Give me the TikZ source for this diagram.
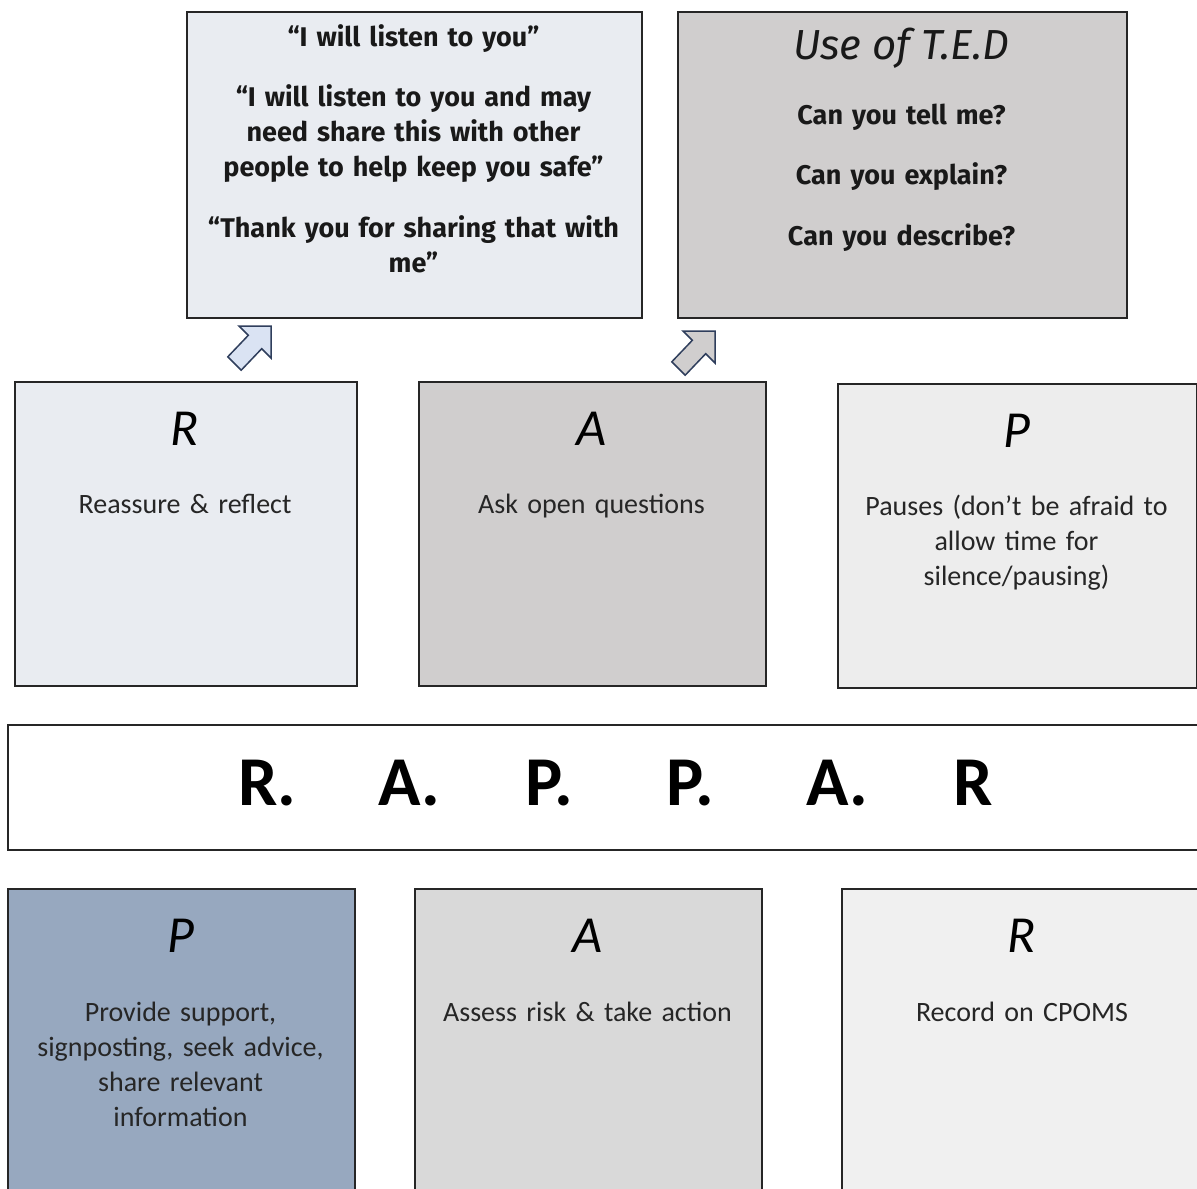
\documentclass[tikz,border=0pt]{standalone}
\usepackage{fontspec}
\setmainfont{Carlito}
\newfontfamily\firafam{Fira Sans}
\definecolor{paleblue}{HTML}{E9ECF1}
\definecolor{midgray}{HTML}{D0CECE}
\definecolor{lightgray}{HTML}{EDEDED}
\definecolor{slateblue}{HTML}{97A8BF}
\definecolor{graybox}{HTML}{D9D9D9}
\definecolor{palegray}{HTML}{F0F0F0}
\definecolor{arrowblue}{HTML}{DAE3F3}
\definecolor{arrowedge}{HTML}{2F3E5C}
\definecolor{bodytext}{HTML}{262626}
\begin{document}
\begin{tikzpicture}[x=1bp,y=-1bp,
  box/.style={draw=black!85,line width=1.5bp,anchor=north west,inner sep=0pt},
  quote/.style={anchor=base,inner sep=0pt,text width=450bp,align=center,text=black!90,
    font=\firafam\bfseries\fontsize{27bp}{35bp}\selectfont},
  tedhead/.style={anchor=base,inner sep=0pt,text=black!90,
    font=\firafam\itshape\fontsize{42bp}{44bp}\selectfont},
  bigletter/.style={anchor=base,inner sep=0pt,text=black,
    font=\itshape\fontsize{52bp}{52bp}\selectfont},
  body/.style={anchor=base,inner sep=0pt,text width=320bp,align=center,text=bodytext,
    font=\fontsize{28bp}{35bp}\selectfont},
  blockarrow/.style={draw=arrowedge,line width=1.5bp,line join=miter}
]
\useasboundingbox (0,0) rectangle (1197,1189);
\clip (0,0) rectangle (1197,1189);

% top boxes
\node[box,fill=paleblue,minimum width=455bp,minimum height=306bp] (quotes) at (186,11) {};
\node[box,fill=midgray,minimum width=449bp,minimum height=306bp] (ted) at (677,11) {};

\node[quote] (q1) at (413.5,46) {“I will listen to you”};
\node[quote] (q2) at (413.5,106) {“I will listen to you and may\\ need share this with other\\ people to help keep you safe”};
\node[quote] (q3) at (413.5,237) {“Thank you for sharing that with\\ me”};

\node[tedhead] (tedtitle) at (901.5,59) {Use of T.E.D};
\node[quote] (t1) at (901.5,124) {Can you tell me?};
\node[quote] (t2) at (901.5,184) {Can you explain?};
\node[quote] (t3) at (901.5,245) {Can you describe?};

% block arrows
\draw[blockarrow,fill=arrowblue] (227.8,356.8) -- (248.3,335.3) -- (239,326) -- (271,326) -- (271,358) -- (261.7,348.7) -- (241.2,370.2) -- cycle;
\draw[blockarrow,fill=midgray] (671.8,361.8) -- (692.3,340.3) -- (683,331) -- (715,331) -- (715,363) -- (705.7,353.7) -- (685.2,375.2) -- cycle;

% middle row
\node[box,fill=paleblue,minimum width=342bp,minimum height=304bp] (rbox) at (14,381) {};
\node[box,fill=midgray,minimum width=347bp,minimum height=304bp] (abox) at (418,381) {};
\node[box,fill=lightgray,minimum width=359bp,minimum height=304bp] (pbox) at (837,383) {};

\node[bigletter] (rl) at (185,445) {R};
\node[body] (rt) at (185,513) {Reassure \& reflect};
\node[bigletter] (al) at (591.5,445) {A};
\node[body] (at) at (591.5,513) {Ask open questions};
\node[bigletter] (pl) at (1016.5,447) {P};
\node[body] (pt) at (1016.5,515) {Pauses (don’t be afraid to\\ allow time for\\ silence/pausing)};

% banner
\node[box,fill=white,minimum width=1200bp,minimum height=125bp] (banner) at (7,724) {};
\node[anchor=base west,inner sep=0pt,font=\bfseries\fontsize{70bp}{70bp}\selectfont] (word) at (238,805)
  {\makebox[140bp][l]{R.}\makebox[147bp][l]{A.}\makebox[141bp][l]{P.}\makebox[140bp][l]{P.}\makebox[147bp][l]{A.}R};

% bottom row
\node[box,fill=slateblue,minimum width=347bp,minimum height=320bp] (pbot) at (7,888) {};
\node[box,fill=graybox,minimum width=347bp,minimum height=320bp] (abot) at (414,888) {};
\node[box,fill=palegray,minimum width=370bp,minimum height=320bp] (rbot) at (841,888) {};

\node[bigletter] (pbl) at (180.5,952) {P};
\node[body] (pbt) at (180.5,1021) {Provide support,\\ signposting, seek advice,\\ share relevant\\ information};
\node[bigletter] (abl) at (587.5,952) {A};
\node[body] (abt) at (587.5,1021) {Assess risk \& take action};
\node[bigletter] (rbl) at (1022,952) {R};
\node[body] (rbt) at (1022,1021) {Record on CPOMS};
\end{tikzpicture}
\end{document}
